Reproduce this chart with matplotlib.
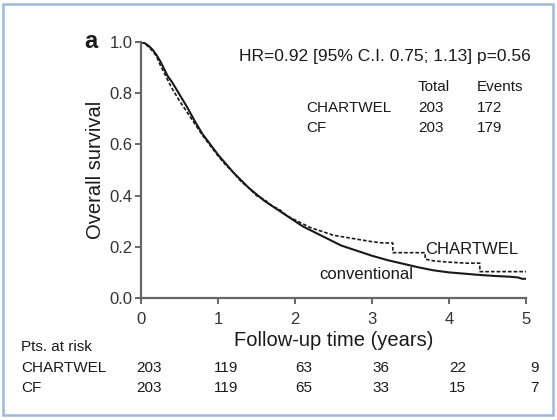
import matplotlib
matplotlib.use("Agg")
import matplotlib.pyplot as plt
from matplotlib.patches import Rectangle
import matplotlib.transforms as mtransforms

plt.rcParams['font.family'] = ['Liberation Sans', 'DejaVu Sans']

# ---- data ----
conv_t = [0, 0.05, 0.1, 0.15, 0.2, 0.25, 0.3, 0.35, 0.4, 0.5, 0.6, 0.7, 0.8, 0.9,
          1.0, 1.1, 1.2, 1.3, 1.4, 1.5, 1.6, 1.7, 1.8, 1.9, 2.0, 2.1, 2.2, 2.3, 2.4,
          2.5, 2.6, 2.7, 2.8, 2.9, 3.0, 3.2, 3.4, 3.6, 3.8, 4.0, 4.2, 4.4, 4.6, 4.8,
          4.9, 4.95, 5.0]
conv_s = [1.0, 0.995, 0.985, 0.97, 0.95, 0.925, 0.895, 0.865, 0.845, 0.795, 0.745,
          0.69, 0.64, 0.60, 0.56, 0.525, 0.49, 0.46, 0.43, 0.405, 0.38, 0.36, 0.34,
          0.32, 0.30, 0.28, 0.265, 0.25, 0.235, 0.22, 0.205, 0.195, 0.185, 0.175,
          0.165, 0.148, 0.134, 0.12, 0.108, 0.10, 0.095, 0.09, 0.086, 0.083, 0.08,
          0.075, 0.075]

chart_t = [0, 0.05, 0.1, 0.15, 0.2, 0.25, 0.3, 0.35, 0.4, 0.5, 0.6, 0.7, 0.8, 0.9,
           1.0, 1.1, 1.2, 1.3, 1.4, 1.5, 1.6, 1.7, 1.8, 1.9, 2.0, 2.1, 2.2, 2.3, 2.4,
           2.5, 2.6, 2.7, 2.8, 2.9, 3.0, 3.14, 3.27, 3.27, 3.69, 3.69, 3.8, 4.0,
           4.23, 4.4, 4.4, 5.0]
chart_s = [1.0, 0.995, 0.98, 0.965, 0.945, 0.91, 0.88, 0.85, 0.82, 0.77, 0.725,
           0.68, 0.635, 0.595, 0.555, 0.52, 0.49, 0.455, 0.43, 0.40, 0.385, 0.36,
           0.345, 0.32, 0.305, 0.29, 0.275, 0.265, 0.255, 0.245, 0.24, 0.235, 0.23,
           0.225, 0.22, 0.215, 0.215, 0.177, 0.177, 0.152, 0.145, 0.14, 0.136,
           0.136, 0.103, 0.103]

x_ticks = [0, 1, 2, 3, 4, 5]
y_ticks = [0.0, 0.2, 0.4, 0.6, 0.8, 1.0]
y_ticklabels = ["0.0", "0.2", "0.4", "0.6", "0.8", "1.0"]

risk_times = [0, 1, 2, 3, 4, 5]
risk_chartwel = [203, 119, 63, 36, 22, 9]
risk_cf = [203, 119, 65, 33, 15, 7]

table_groups = ["CHARTWEL", "CF"]
table_total = [203, 203]
table_events = [172, 179]

W, H = 557, 420
fig = plt.figure(figsize=(W / 100, H / 100), dpi=100)
fig.patch.set_facecolor("white")

def fx(px):
    return px / W

def fy(py):
    return 1 - py / H

TXT = "#1a1a1a"
ax = fig.add_axes([fx(141), fy(298), fx(526) - fx(141), fy(42) - fy(298)])
ax.plot(conv_t, conv_s, color=TXT, lw=1.5, solid_joinstyle="miter")
ax.plot(chart_t, chart_s, color=TXT, lw=1.2, ls=(0, (2.2, 1.2)))
ax.set_xlim(0, 5)
ax.set_ylim(0, 1)
for s in ["top", "right"]:
    ax.spines[s].set_visible(False)
for s in ["left", "bottom"]:
    ax.spines[s].set_color("#666666")
    ax.spines[s].set_linewidth(1.6)
ax.set_xticks(x_ticks)
ax.set_yticks(y_ticks)
ax.set_yticklabels(y_ticklabels)
ax.tick_params(direction="out", length=4, width=1.4, color="#666666",
               labelsize=12, labelcolor="#333333", pad=2)
ax.tick_params(axis="x", pad=6)
ax.set_xlabel("Follow-up time (years)", fontsize=14.5, color=TXT, labelpad=3)
ax.set_ylabel("Overall survival", fontsize=14.5, color=TXT, labelpad=3)

# curve labels
ax.text(3.69, 0.19, "CHARTWEL", fontsize=12, color=TXT, ha="left", va="center")
ax.text(2.32, 0.09, "conventional", fontsize=12, color=TXT, ha="left", va="center")

# panel letter
fig.text(fx(84), fy(42), "a", fontsize=17, fontweight="bold", color=TXT,
         ha="left", va="center")

# HR text and table
fig.text(fx(239), fy(57), "HR=0.92 [95% C.I. 0.75; 1.13] p=0.56", fontsize=12.5,
         color=TXT, ha="left", va="center")
fig.text(fx(418), fy(87), "Total", fontsize=11, color=TXT, ha="left", va="center")
fig.text(fx(477), fy(87), "Events", fontsize=11, color=TXT, ha="left", va="center")
for i, g in enumerate(table_groups):
    yy = fy(108 + 20 * i)
    fig.text(fx(306), yy, g, fontsize=11, color=TXT, ha="left", va="center")
    fig.text(fx(418), yy, str(table_total[i]), fontsize=11, color=TXT, ha="left", va="center")
    fig.text(fx(477), yy, str(table_events[i]), fontsize=11, color=TXT, ha="left", va="center")

# numbers at risk
fig.text(fx(21), fy(347), "Pts. at risk", fontsize=11, color=TXT, ha="left", va="center")
trans = mtransforms.blended_transform_factory(ax.transData, fig.transFigure)
rows = [("CHARTWEL", risk_chartwel, 368), ("CF", risk_cf, 388)]
for name, vals, py in rows:
    fig.text(fx(21), fy(py), name, fontsize=11, color=TXT, ha="left", va="center")
    for t, v in zip(risk_times, vals):
        ax.text(t + 0.11, fy(py), str(v), fontsize=11, color=TXT,
                ha="center", va="center", transform=trans, clip_on=False)

# light blue frame
fig.patches.append(Rectangle((fx(3), fy(415)), fx(553) - fx(3), fy(4) - fy(415),
                             transform=fig.transFigure, fill=False,
                             edgecolor="#9db8e0", lw=1.8))

fig.savefig("out.png", dpi=100, facecolor="white")
